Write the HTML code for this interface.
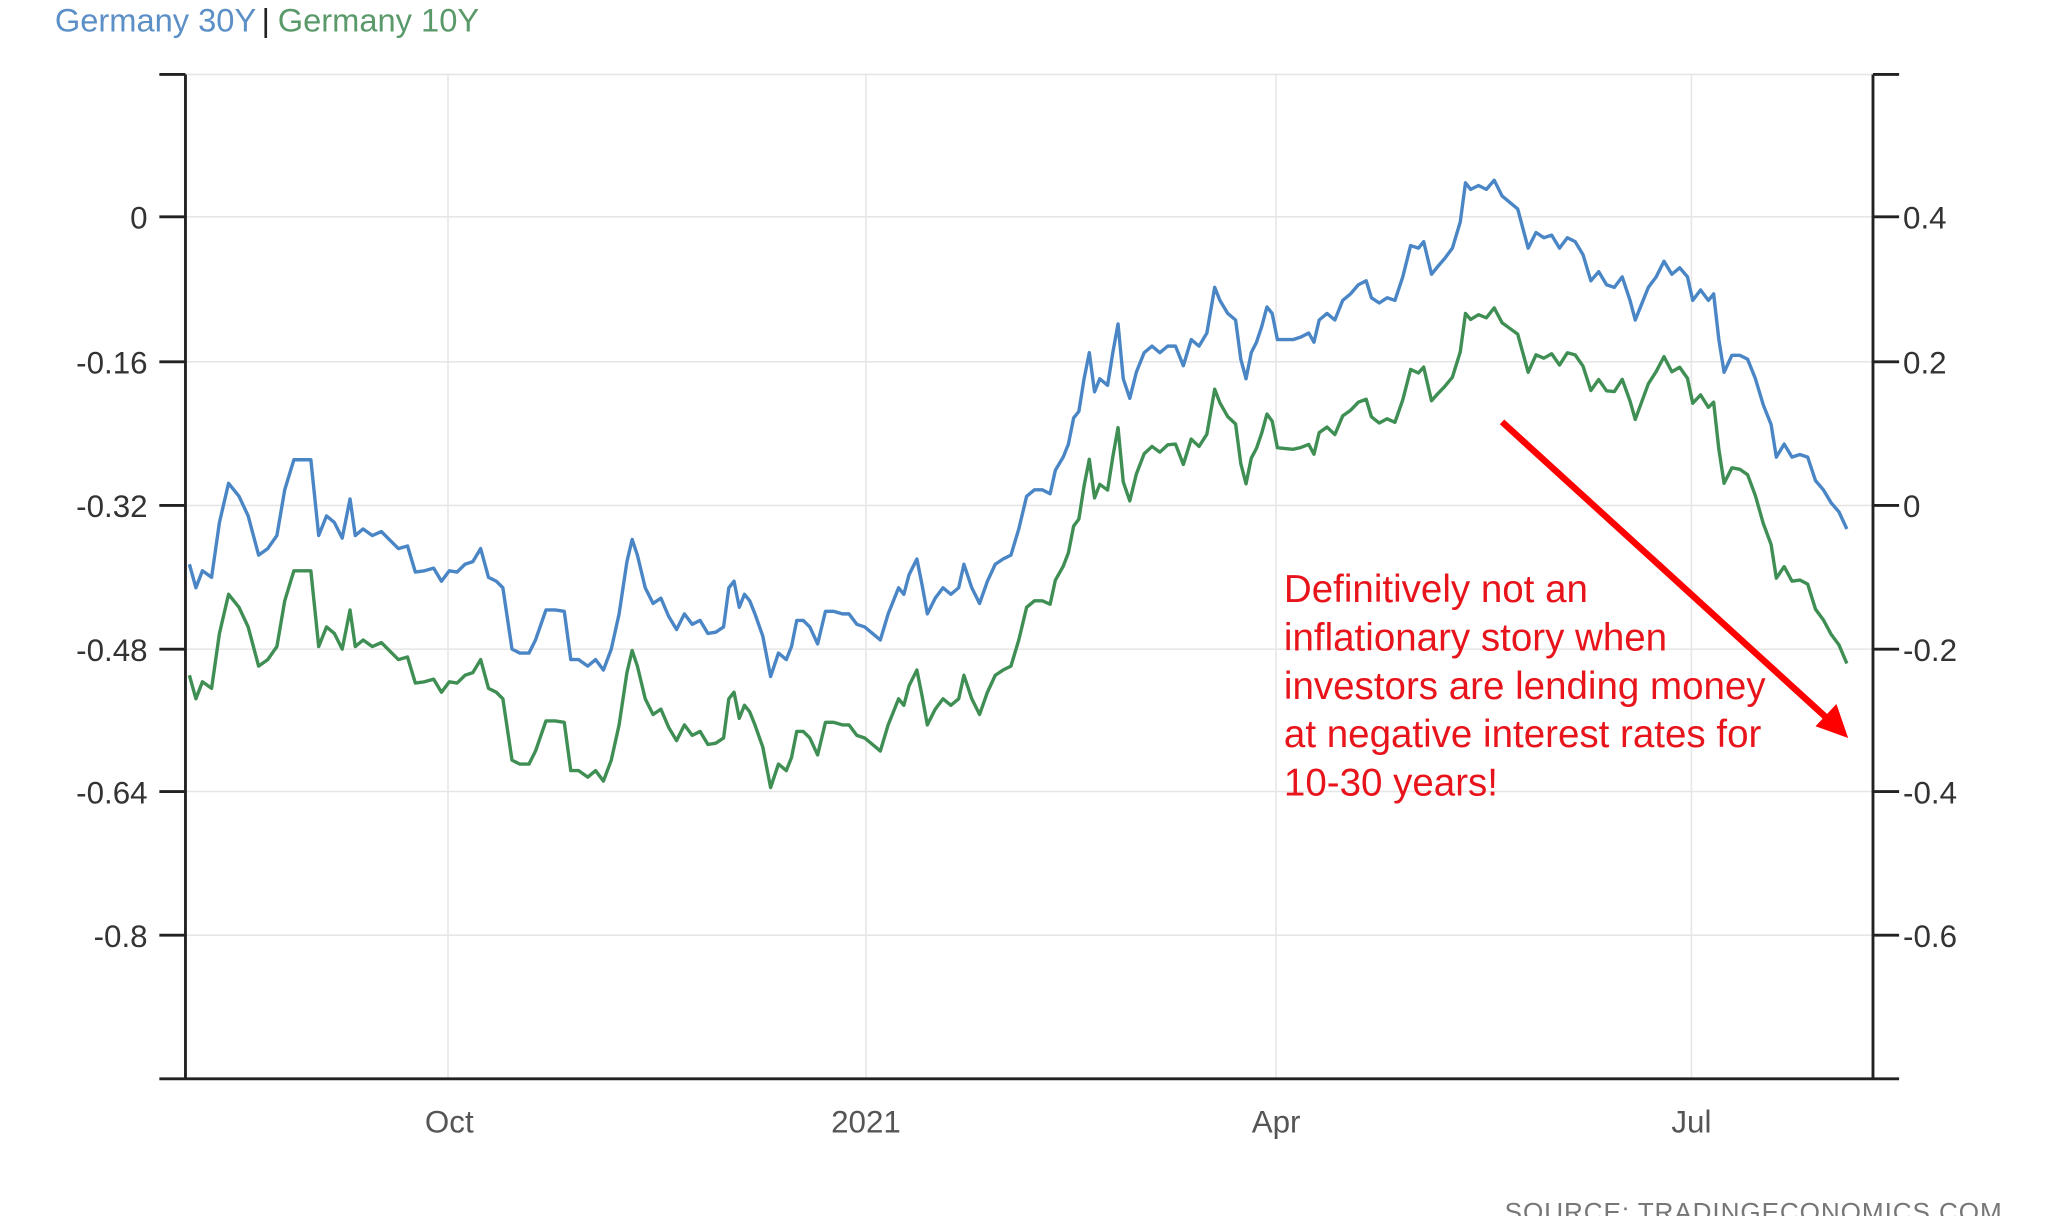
<!DOCTYPE html>
<html><head><meta charset="utf-8"><style>
html,body{margin:0;padding:0;background:#fff;}
svg{display:block;}
text{font-family:"Liberation Sans",sans-serif;}
</style></head><body>
<svg id="s" width="2048" height="1216" viewBox="0 0 1568 931" preserveAspectRatio="none">
<rect width="1568" height="931" fill="#fff"/>
<text x="42" y="24" font-size="25"><tspan fill="#5b8fc6">Germany 30Y</tspan><tspan fill="#222" dx="4">|</tspan><tspan fill="#5a9a6a" dx="6">Germany 10Y</tspan></text>
<g stroke="#e6e6e6" stroke-width="1.2">
<line x1="142" y1="57" x2="1434" y2="57"/>
<line x1="142" y1="166" x2="1434" y2="166"/>
<line x1="142" y1="277" x2="1434" y2="277"/>
<line x1="142" y1="387" x2="1434" y2="387"/>
<line x1="142" y1="497" x2="1434" y2="497"/>
<line x1="142" y1="606" x2="1434" y2="606"/>
<line x1="142" y1="716" x2="1434" y2="716"/>
<line x1="343" y1="57" x2="343" y2="826"/>
<line x1="663" y1="57" x2="663" y2="826"/>
<line x1="977" y1="57" x2="977" y2="826"/>
<line x1="1295" y1="57" x2="1295" y2="826"/>
</g>
<g stroke="#222" stroke-width="2.2" fill="none">
<line x1="142" y1="57" x2="142" y2="826"/>
<line x1="1434" y1="57" x2="1434" y2="826"/>
<line x1="122" y1="826" x2="1454" y2="826"/>
<line x1="122" y1="57" x2="142" y2="57"/>
<line x1="1434" y1="57" x2="1454" y2="57"/>
<line x1="122" y1="166" x2="142" y2="166"/><line x1="122" y1="277" x2="142" y2="277"/>
<line x1="122" y1="387" x2="142" y2="387"/><line x1="122" y1="497" x2="142" y2="497"/>
<line x1="122" y1="606" x2="142" y2="606"/><line x1="122" y1="716" x2="142" y2="716"/>
<line x1="1434" y1="166" x2="1454" y2="166"/><line x1="1434" y1="277" x2="1454" y2="277"/>
<line x1="1434" y1="387" x2="1454" y2="387"/><line x1="1434" y1="497" x2="1454" y2="497"/>
<line x1="1434" y1="606" x2="1454" y2="606"/><line x1="1434" y1="716" x2="1454" y2="716"/>
</g>
<g font-size="24" fill="#333" text-anchor="end">
<text x="113" y="175">0</text><text x="113" y="286">-0.16</text><text x="113" y="396">-0.32</text>
<text x="113" y="506">-0.48</text><text x="113" y="615">-0.64</text><text x="113" y="725">-0.8</text>
</g>
<g font-size="24" fill="#333">
<text x="1457" y="175">0.4</text><text x="1457" y="286">0.2</text><text x="1457" y="396">0</text>
<text x="1457" y="506">-0.2</text><text x="1457" y="615">-0.4</text><text x="1457" y="725">-0.6</text>
</g>
<g font-size="24" fill="#555" text-anchor="middle">
<text x="344" y="867">Oct</text><text x="663" y="867">2021</text><text x="977" y="867">Apr</text><text x="1295" y="867">Jul</text>
</g>
<text x="1152" y="935" font-size="20" fill="#777" letter-spacing="0.7">SOURCE: TRADINGECONOMICS.COM</text>
<path id="blue" fill="none" stroke="#4a86c5" stroke-width="2.6" stroke-linejoin="round"/>
<path id="green" fill="none" stroke="#3f8f55" stroke-width="2.6" stroke-linejoin="round"/>
<line x1="1150" y1="323" x2="1400" y2="551" stroke="#f00" stroke-width="5"/>
<polygon points="1415,565 1390,556 1406,539" fill="#f00"/>
<g font-size="29.5" fill="#e8141b">
<text x="983" y="461">Definitively not an</text>
<text x="983" y="498">inflationary story when</text>
<text x="983" y="535">investors are lending money</text>
<text x="983" y="572">at negative interest rates for</text>
<text x="983" y="609">10-30 years!</text>
</g>
</svg>
<script>
var b=[145,432,150,450,155,437,162,442,168,400,175,370,183,380,190,395,198,425,205,420,212,410,218,375,225,352,232,352,238,352,244,410,250,395,256,400,262,412,268,382,272,410,278,405,285,410,292,407,300,415,305,420,312,418,318,438,325,437,332,435,338,445,344,437,350,438,356,432,362,430,368,420,374,442,380,445,385,450,392,497,398,500,405,500,410,490,418,467,425,467,432,468,437,505,443,505,450,510,456,505,462,513,468,497,474,470,480,430,484,413,488,425,494,450,500,462,506,458,512,472,518,482,524,470,530,478,536,475,542,485,548,484,554,480,558,450,562,445,566,465,570,455,574,460,578,470,584,487,590,518,596,500,602,505,606,495,610,475,615,475,620,480,626,493,632,468,638,468,645,470,650,470,656,478,662,480,668,485,674,490,680,470,684,460,688,450,692,455,696,440,702,428,706,448,710,470,716,458,722,450,728,455,734,450,738,432,744,450,750,462,756,445,762,432,768,428,774,425,780,405,786,380,792,375,798,375,804,378,808,360,814,350,818,340,822,320,826,315,830,290,834,270,838,300,842,290,848,295,852,270,856,248,860,290,865,305,870,285,876,270,882,265,888,270,894,265,900,265,906,280,912,260,918,265,924,255,930,220,934,230,940,240,946,245,950,275,954,290,958,270,962,262,966,250,970,235,974,240,978,260,984,260,990,260,996,258,1002,255,1006,262,1010,245,1016,240,1022,245,1028,230,1034,225,1040,218,1046,215,1050,228,1056,232,1062,228,1068,230,1074,212,1080,188,1086,190,1090,185,1096,210,1100,205,1106,198,1112,190,1118,170,1122,140,1126,145,1132,142,1138,145,1144,138,1150,150,1156,155,1162,160,1166,175,1170,190,1176,178,1182,182,1188,180,1194,190,1200,182,1206,185,1212,195,1218,215,1224,208,1230,218,1236,220,1242,212,1248,230,1252,245,1256,235,1262,220,1268,212,1274,200,1280,210,1286,205,1292,212,1296,230,1302,222,1308,230,1312,225,1316,260,1320,285,1326,272,1332,272,1338,275,1344,290,1350,310,1356,325,1360,350,1366,340,1372,350,1378,348,1384,350,1390,368,1396,375,1402,385,1408,392,1414,405];
var dk=[[145,85],[800,85],[900,75],[1000,85],[1122,100],[1170,95],[1270,72],[1320,85],[1414,103]];
function d(x){for(var i=1;i<dk.length;i++){if(x<=dk[i][0]){var a=dk[i-1],c=dk[i];return a[1]+(c[1]-a[1])*(x-a[0])/(c[0]-a[0]);}}return 103;}
var pb="",pg="";
for(var i=0;i<b.length;i+=2){var x=b[i],y=b[i+1];pb+=(i?"L":"M")+x+" "+y;pg+=(i?"L":"M")+x+" "+(y+d(x));}
document.getElementById("blue").setAttribute("d",pb);
document.getElementById("green").setAttribute("d",pg);
</script>
</body></html>
